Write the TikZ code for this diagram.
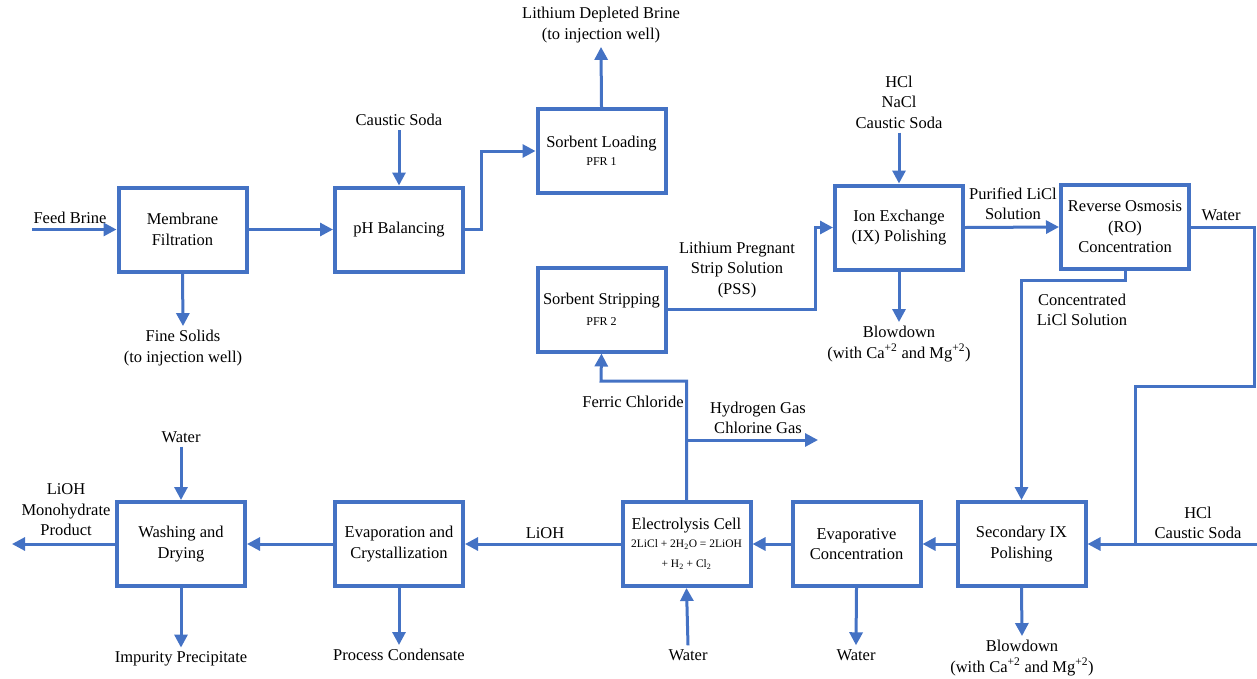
\documentclass[tikz,border=0pt]{standalone}
\usepackage{fontspec}
\setmainfont{Liberation Serif}
\newfontfamily\tnr{Liberation Serif}
\usetikzlibrary{arrows.meta}
\definecolor{pblue}{HTML}{4472C4}
\begin{document}
\begin{tikzpicture}[x=1pt,y=-1pt,
 box/.style={draw=pblue,line width=4pt,minimum width=128pt,minimum height=84pt,align=center,inner sep=2pt,font=\tnr\fontsize{16.5}{20.5}\selectfont},
 lbl/.style={align=center,font=\tnr\fontsize{16.5}{20.5}\selectfont,inner sep=4pt},
 flow/.style={draw=pblue,line width=3pt,-{Triangle[length=13pt,width=13pt]}},
 pipe/.style={draw=pblue,line width=3pt}]
\newcommand\smf{\tnr\fontsize{12}{15}\selectfont}
\newcommand\eqf{\tnr\fontsize{11.5}{20}\selectfont}
\useasboundingbox (0,0) rectangle (1257,678);
% boxes
\node[box] (mf) at (182.5,229.5) {Membrane\\Filtration};
\node[box] (ph) at (399,229.5) {pH Balancing};
\node[box] (sl) at (601.5,151) {Sorbent Loading\\[-2pt]\smf PFR 1};
\node[box] (ss) at (601.5,309.5) {Sorbent Stripping\\[1pt]\smf PFR 2};
\node[box] (ix) at (899,227.5) {Ion Exchange\\(IX) Polishing};
\node[box] (ro) at (1125,227) {Reverse Osmosis\\(RO)\\Concentration};
\node[box] (six) at (1021.5,544) {Secondary IX\\Polishing};
\node[box] (ec) at (856.5,544) {Evaporative\\Concentration};
\node[box] (el) at (686.5,544) {Electrolysis Cell\\[-3pt]\eqf 2LiCl + 2H\textsubscript{2}O = 2LiOH\\\eqf + H\textsubscript{2} + Cl\textsubscript{2}};
\node[box] (evc) at (399,544) {Evaporation and\\Crystallization};
\node[box] (wd) at (181,544) {Washing and\\Drying};
% labels
\node[lbl] (feed) at (70,218) {Feed Brine};
\node[lbl] (fs) at (183,348) {Fine Solids\\(to injection well)};
\node[lbl] (cs1) at (399,120) {Caustic Soda};
\node[lbl] (ldb) at (601,25) {Lithium Depleted Brine\\(to injection well)};
\node[lbl] (pss) at (737,270) {Lithium Pregnant\\Strip Solution\\(PSS)};
\node[lbl] (chem1) at (899,102) {HCl\\NaCl\\Caustic Soda};
\node[lbl] (bd1) at (899,344) {Blowdown\\(with Ca\textsuperscript{+2} and Mg\textsuperscript{+2})};
\node[lbl] (pur) at (1013,204) {Purified LiCl\\Solution};
\node[lbl] (wro) at (1221,215) {Water};
\node[lbl] (conc) at (1082,310) {Concentrated\\LiCl Solution};
\node[lbl] (hcl2) at (1198,523) {HCl\\Caustic Soda};
\node[lbl] (bd2) at (1022,658) {Blowdown\\(with Ca\textsuperscript{+2} and Mg\textsuperscript{+2})};
\node[lbl] (w3) at (856,655) {Water};
\node[lbl] (fc) at (633,402) {Ferric Chloride};
\node[lbl] (gas) at (758,418) {Hydrogen Gas\\Chlorine Gas};
\node[lbl] (w4) at (688,655) {Water};
\node[lbl] (lioh) at (545,533) {LiOH};
\node[lbl] (pc) at (399,655) {Process Condensate};
\node[lbl] (w5) at (181,437) {Water};
\node[lbl] (prod) at (66,510) {LiOH\\Monohydrate\\Product};
\node[lbl] (ip) at (181,659) {Impurity Precipitate};
% coordinates
\coordinate (feedin) at (32,229.5);
\coordinate (ssk) at (815,0);
\coordinate (w1) at (1254,386);
\coordinate (w2) at (1135,386);
\coordinate (hclin) at (1257,544);
\coordinate (fcc) at (601,381);
\coordinate (gasb) at (686.5,440);
\coordinate (gase) at (818,440);
\coordinate (prodout) at (12,544);
% connectors
\draw[flow] (feedin) -- (mf.west);
\draw[flow] (mf.east) -- (ph.west);
\draw[flow] (mf.south) -- (fs.north);
\draw[flow] (cs1.south) -- (ph.north);
\draw[flow] (ph.east) -- ++(16,0) |- (sl.west);
\draw[flow] (sl.north) -- (ldb.south);
\draw[flow] (ss.east) -- (ss.east -| ssk) |- (ix.west);
\draw[flow] (chem1.south) -- (ix.north);
\draw[flow] (ix.south) -- (bd1.north);
\draw[flow] (ix.east) -- (ro.west);
\draw[pipe] (ro.east) -| (w1) -- (w2) -- (w2 |- six.east);
\draw[flow] (hclin) -- (six.east);
\draw[flow] (ro.south) -- ++(0,9) -| (six.north);
\draw[flow] (six.west) -- (ec.east);
\draw[flow] (six.south) -- (bd2.north);
\draw[flow] (ec.south) -- (w3.north);
\draw[flow] (ec.west) -- (el.east);
\draw[flow] (el.north) |- (fcc) -- (ss.south);
\draw[flow] (gasb) -- (gase);
\draw[flow] (w4.north) -- (el.south);
\draw[flow] (el.west) -- (evc.east);
\draw[flow] (evc.south) -- (pc.north);
\draw[flow] (evc.west) -- (wd.east);
\draw[flow] (w5.south) -- (wd.north);
\draw[flow] (wd.west) -- (prodout);
\draw[flow] (wd.south) -- (ip.north);
\end{tikzpicture}
\end{document}
